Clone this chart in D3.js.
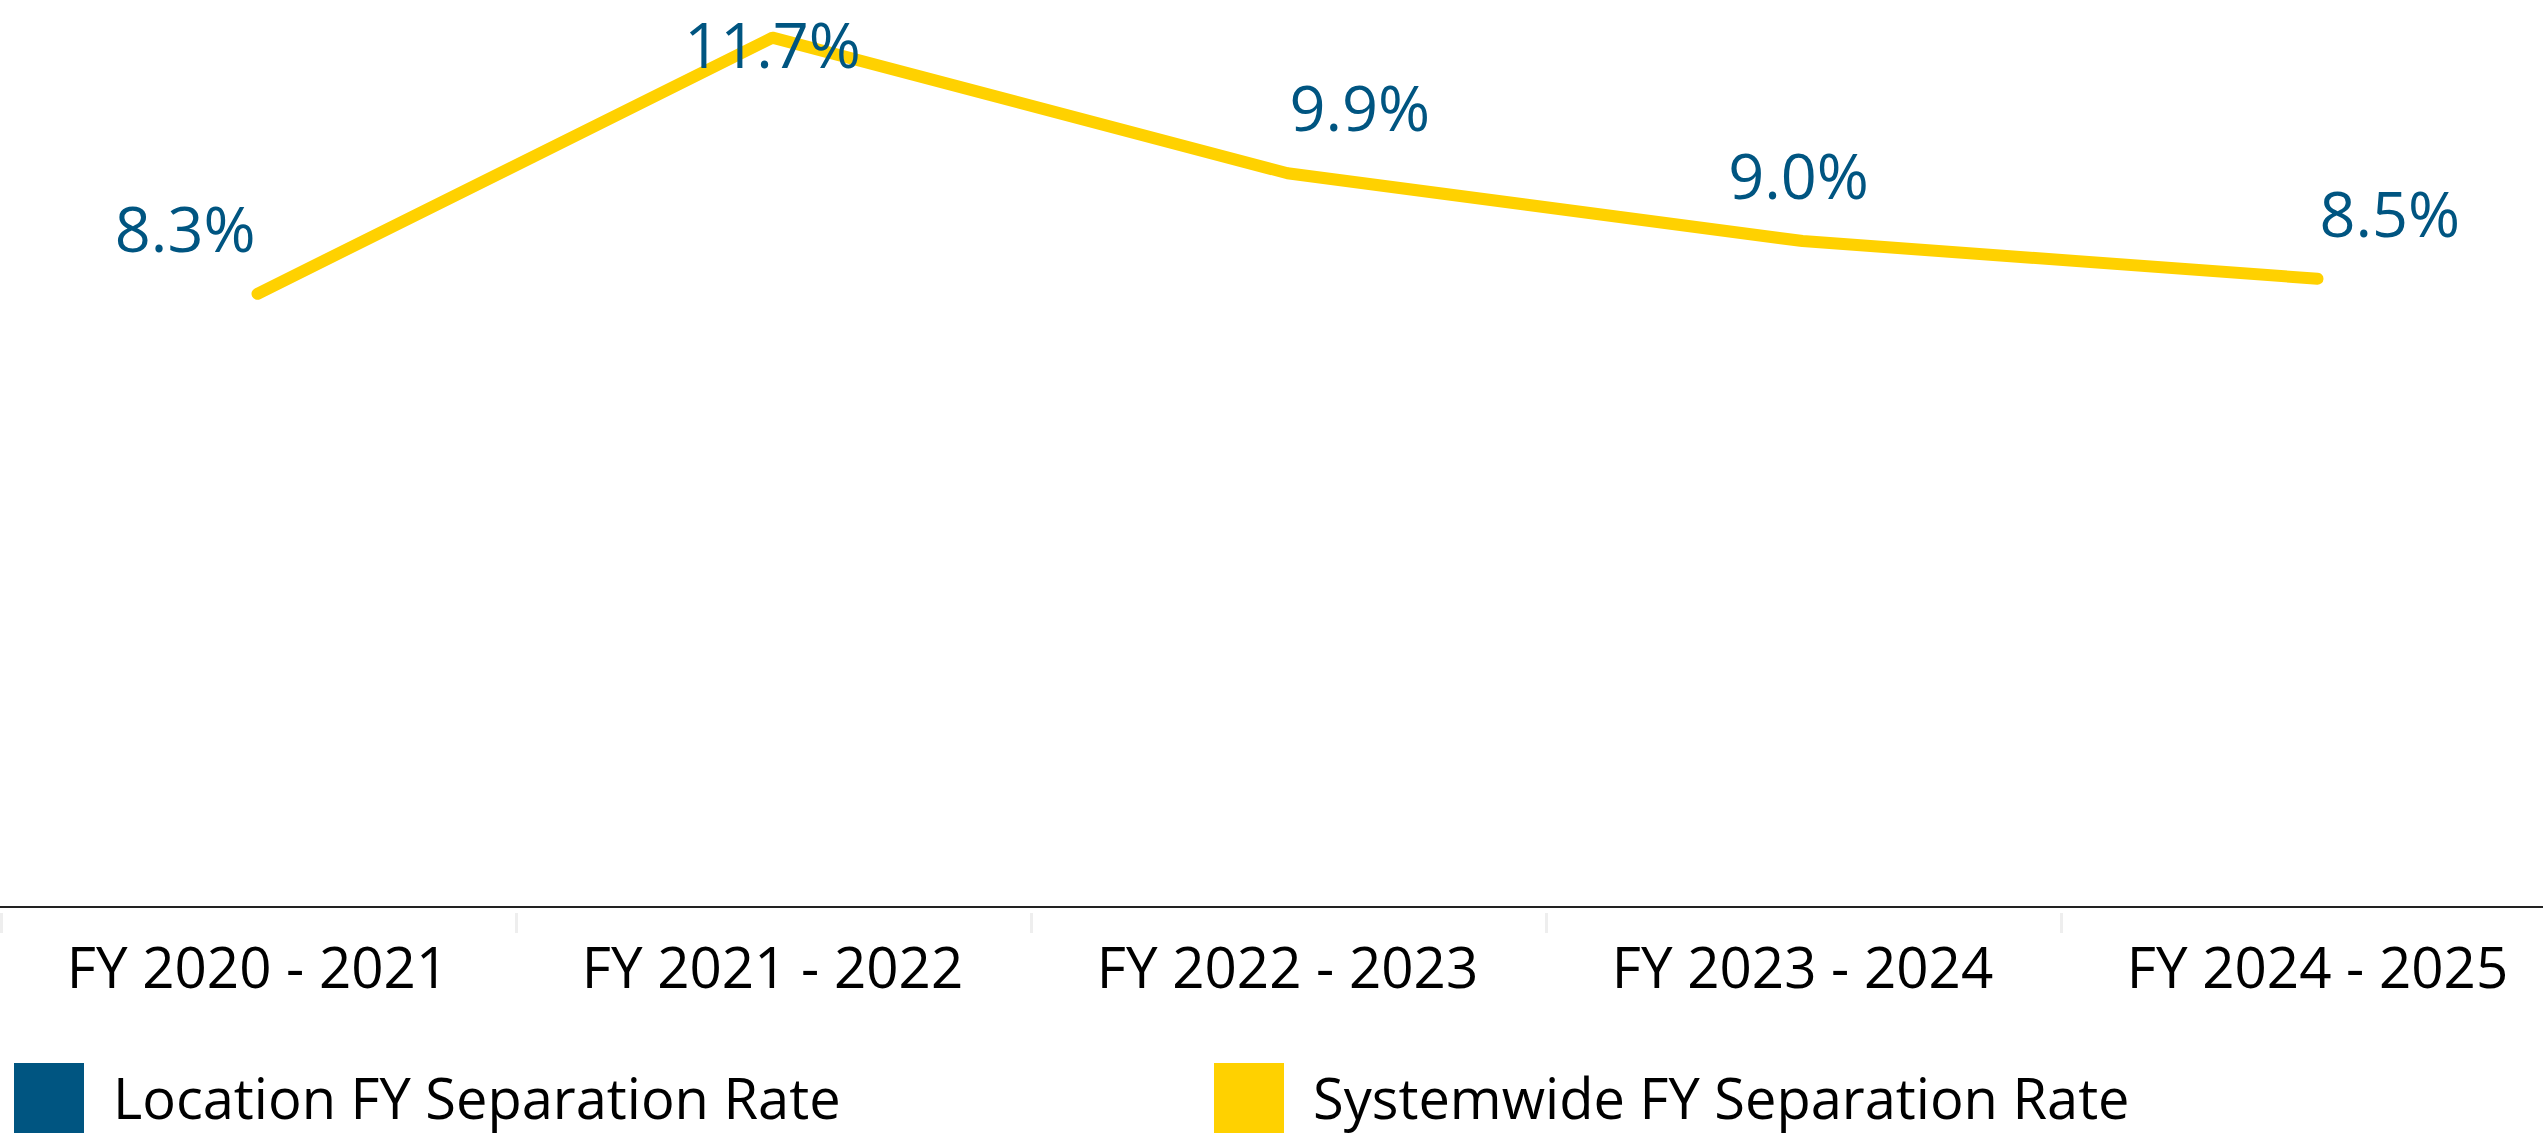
<!DOCTYPE html>
<html>
<head>
<meta charset="utf-8">
<script src="https://cdn.jsdelivr.net/npm/d3@7"></script>
<style>
  html, body { margin: 0; padding: 0; background: #ffffff; }
  svg { display: block; }
  text { font-family: "Open Sans", "Noto Sans", sans-serif; }
</style>
</head>
<body>
<svg id="chart" width="2543" height="1139"></svg>
<script>
// ---- data ----
const categories = ["FY 2020 - 2021", "FY 2021 - 2022", "FY 2022 - 2023", "FY 2023 - 2024", "FY 2024 - 2025"];
const systemwideRates = [8.3, 11.7, 9.9, 9.0, 8.5];
const valueLabels = ["8.3%", "11.7%", "9.9%", "9.0%", "8.5%"];
const legendLabels = ["Location FY Separation Rate", "Systemwide FY Separation Rate"];
const legendColors = ["#005581", "#FFD100"];

// ---- layout ----
const W = 2543, H = 1139;
const svg = d3.select("#chart");
svg.append("rect").attr("width", W).attr("height", H).attr("fill", "#ffffff");

const x = d3.scaleBand().domain(categories).range([0, 2575]).paddingInner(0).paddingOuter(0);
const y = d3.scaleLinear().domain([0, 12.2]).range([919, 0]);
const axisY = 907;

// category dividers (faint)
svg.append("g").selectAll("line")
  .data(categories)
  .join("line")
  .attr("x1", d => x(d) + 1.5)
  .attr("x2", d => x(d) + 1.5)
  .attr("y1", 913).attr("y2", 933)
  .attr("stroke", "#eeeeee")
  .attr("stroke-width", 3);

// x axis baseline
svg.append("line")
  .attr("x1", 0).attr("x2", W)
  .attr("y1", axisY).attr("y2", axisY)
  .attr("stroke", "#222222")
  .attr("stroke-width", 2);

// x axis labels via d3 axis
const xAxis = d3.axisBottom(x).tickSize(0).tickPadding(0);
const gx = svg.append("g").attr("transform", `translate(0, 988)`).call(xAxis);
gx.select(".domain").remove();
gx.selectAll("text")
  .attr("dy", 0)
  .attr("y", 0)
  .attr("font-family", "\"Open Sans\", sans-serif")
  .attr("font-size", 56.5)
  .attr("fill", "#000000")
  .attr("text-anchor", "middle");

// line
const pts = categories.map((c, i) => ({ c, v: systemwideRates[i], label: valueLabels[i] }));
const line = d3.line()
  .x(d => x(d.c) + x.bandwidth() / 2)
  .y(d => y(d.v));
svg.append("path")
  .datum(pts)
  .attr("d", line)
  .attr("fill", "none")
  .attr("stroke", "#FFD100")
  .attr("stroke-width", 12)
  .attr("stroke-linecap", "round")
  .attr("stroke-linejoin", "round");

// value labels
const anchors = ["end", "middle", "start", "middle", "start"];
const dxs = [-2, 0, 2, -4, 2];
svg.append("g").selectAll("text")
  .data(pts)
  .join("text")
  .attr("x", (d, i) => x(d.c) + x.bandwidth() / 2 + dxs[i])
  .attr("y", d => Math.max(y(d.v) - 42, 68))
  .attr("text-anchor", (d, i) => anchors[i])
  .attr("font-size", 63)
  .attr("fill", "#005581")
  .text(d => d.label);

// legend
const legendX = [14, 1214];
const lg = svg.append("g").selectAll("g")
  .data(legendLabels)
  .join("g")
  .attr("transform", (d, i) => `translate(${legendX[i]}, 1063)`);
lg.append("rect")
  .attr("width", 70).attr("height", 70)
  .attr("fill", (d, i) => legendColors[i]);
lg.append("text")
  .attr("x", 99).attr("y", 56)
  .attr("font-size", 56)
  .attr("fill", "#000000")
  .text(d => d);
</script>
</body>
</html>
